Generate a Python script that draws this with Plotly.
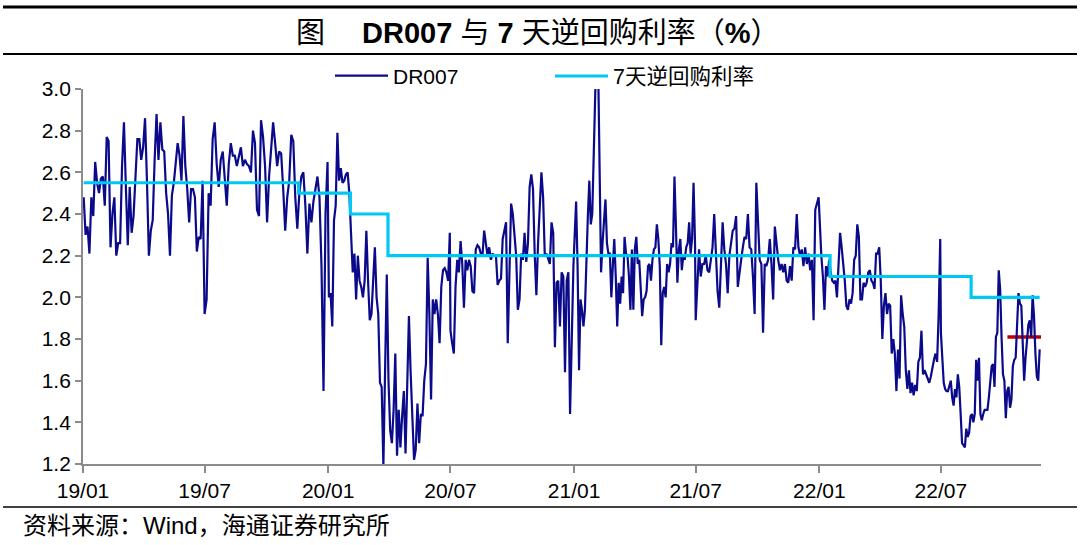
import pandas as pd
import plotly.graph_objects as go

# ---------------- data ----------------
dr007_2019h1 = [2.48, 2.30, 2.34, 2.21, 2.48, 2.39, 2.65, 2.55, 2.50, 2.57, 2.58, 2.44, 2.77, 2.75, 2.24, 2.40,
                2.48, 2.20, 2.26, 2.26, 2.63, 2.84, 2.53, 2.25, 2.53, 2.31, 2.39, 2.58, 2.76, 2.76, 2.66, 2.72,
                2.86, 2.56, 2.20, 2.32, 2.37, 2.66, 2.88, 2.66, 2.84, 2.71, 2.70, 2.50, 2.40, 2.20, 2.49, 2.55,
                2.63, 2.74, 2.68, 2.56, 2.87, 2.63, 2.52, 2.36, 2.52, 2.52, 2.48, 2.22, 2.29, 2.28, 2.56]
dr007_2019h2 = [1.92, 1.99, 2.50, 2.44, 2.76, 2.84, 2.64, 2.53, 2.66, 2.70, 2.56, 2.44, 2.64, 2.74, 2.68, 2.68,
                2.63, 2.68, 2.72, 2.63, 2.66, 2.64, 2.63, 2.60, 2.80, 2.74, 2.42, 2.39, 2.85, 2.77, 2.63, 2.36,
                2.58, 2.71, 2.84, 2.74, 2.63, 2.70, 2.69, 2.52, 2.32, 2.48, 2.56, 2.78, 2.75, 2.48, 2.33, 2.50,
                2.58, 2.60, 2.44, 2.21, 2.45, 2.36, 2.46, 2.52, 2.58, 2.48, 2.15, 1.55, 2.40, 2.65]
dr007_2020h1 = [2.00, 2.02, 1.86, 2.37, 2.44, 2.79, 2.56, 2.62, 2.55, 2.56, 2.59, 2.60, 2.50, 2.31, 2.12, 2.21,
                1.99, 2.20, 2.08, 2.05, 2.00, 2.08, 2.32, 2.08, 1.89, 1.92, 2.07, 2.24, 2.00, 1.92, 1.59, 1.57,
                1.19, 1.60, 2.11, 1.60, 1.36, 1.30, 1.46, 1.73, 1.24, 1.46, 1.28, 1.43, 1.55, 1.25, 1.54, 1.91,
                1.64, 1.44, 1.22, 1.27, 1.49, 1.30, 1.44, 1.43, 1.60, 1.68, 2.19, 1.92, 1.51, 1.99, 1.92, 1.99,
                1.92, 1.78, 2.05, 2.13, 2.14, 2.12, 2.08, 2.31]
dr007_2020h2 = [1.84, 1.78, 1.73, 2.05, 2.18, 2.12, 2.27, 2.16, 1.95, 2.18, 2.13, 2.18, 2.15, 2.03, 2.02, 2.23,
                2.25, 2.24, 2.21, 2.20, 2.32, 2.26, 2.20, 2.24, 2.18, 2.21, 2.20, 2.20, 2.06, 2.08, 2.09, 2.28,
                2.33, 2.36, 1.78, 2.12, 2.45, 2.40, 2.29, 2.20, 1.94, 1.99, 2.21, 2.18, 2.31, 2.17, 2.26, 2.53,
                2.59, 2.52, 2.21, 2.01, 2.26, 2.42, 2.60, 2.48, 2.20, 2.21, 2.18, 2.16, 2.36, 2.31, 1.76, 2.07,
                2.08, 1.86, 2.12, 2.10, 1.64, 2.08, 2.12, 1.44, 1.79, 2.15]
dr007_2021h1 = [2.46, 2.15, 1.65, 1.99, 1.94, 1.86, 1.94, 2.24, 2.39, 2.56, 2.35, 2.40, 2.66, 3.15, 3.25, 3.12,
                2.64, 2.12, 2.26, 2.35, 2.47, 2.26, 2.21, 2.21, 2.00, 2.15, 2.28, 2.10, 1.86, 2.07, 1.97, 2.10,
                2.02, 2.29, 2.21, 2.20, 2.10, 1.94, 2.23, 1.94, 2.23, 2.29, 2.16, 2.18, 2.03, 1.91, 1.99, 2.00,
                2.03, 2.15, 2.16, 2.08, 2.18, 2.23, 2.24, 2.35, 2.28, 2.15, 1.77, 2.02, 2.05, 2.00, 2.16, 2.12,
                2.16, 2.26, 2.24, 2.58, 2.34, 2.07, 2.23, 2.28, 2.13, 2.20, 2.18, 2.24, 2.26, 2.36, 2.21, 2.28,
                2.55, 2.26]
dr007_2021h2 = [1.89, 2.03, 2.23, 2.10, 2.16, 2.16, 2.20, 2.13, 2.12, 2.18, 2.24, 2.40, 2.23, 2.03, 1.95, 2.15,
                2.36, 2.23, 2.16, 2.02, 2.20, 2.26, 2.32, 2.33, 2.39, 2.05, 2.13, 2.18, 2.24, 2.29, 2.28, 2.40,
                2.24, 2.23, 2.10, 1.92, 2.55, 2.32, 2.18, 2.16, 1.83, 2.16, 2.15, 2.18, 2.28, 2.16, 1.99, 2.34,
                2.24, 2.18, 2.13, 2.16, 2.12, 2.16, 2.08, 2.07, 2.15, 2.08, 2.24, 2.23, 2.40, 2.24, 2.20, 2.23,
                2.15, 2.24, 2.16, 2.21, 2.13, 2.18, 1.89, 2.42, 2.45, 2.48]
dr007_2022h1 = [2.20, 2.10, 1.94, 2.15, 2.10, 2.18, 2.12, 2.08, 2.07, 2.08, 2.00, 2.16, 2.31, 2.24, 2.16, 2.08,
                1.96, 1.94, 1.99, 1.97, 2.02, 2.18, 2.20, 2.35, 2.29, 1.99, 1.99, 2.07, 2.05, 2.07, 2.12, 2.13,
                2.08, 2.07, 2.04, 2.21, 2.21, 2.24, 2.08, 1.80, 1.96, 2.02, 1.92, 1.97, 1.96, 1.73, 1.80, 1.73,
                1.55, 1.75, 1.61, 2.01, 1.92, 1.86, 1.65, 1.56, 1.65, 1.54, 1.59, 1.53, 1.58, 1.55, 1.69, 1.71,
                1.84, 1.63, 1.65, 1.63, 1.60, 1.59, 1.62, 1.67, 1.70, 1.73, 1.69, 1.92, 2.28]
dr007_2022h2 = [1.83, 1.67, 1.59, 1.56, 1.55, 1.55, 1.57, 1.60, 1.52, 1.48, 1.56, 1.52, 1.63, 1.57, 1.44, 1.30,
                1.29, 1.28, 1.37, 1.33, 1.35, 1.43, 1.44, 1.40, 1.44, 1.70, 1.60, 1.71, 1.44, 1.41, 1.44, 1.46,
                1.46, 1.46, 1.52, 1.62, 1.67, 1.68, 1.57, 1.81, 1.83, 2.13, 2.04, 1.81, 1.63, 1.60, 1.42, 1.55,
                1.57, 1.47, 1.51, 1.67, 1.70, 1.71, 1.89, 2.02, 1.97, 1.96, 1.78, 1.60, 1.71, 1.80, 1.87, 1.89,
                1.81, 2.01, 1.91, 1.73, 1.62, 1.60, 1.75]

# half-year periods that each DR007 list covers
period_starts = ["2019-01-02", "2019-07-01", "2020-01-02", "2020-07-01",
                 "2021-01-04", "2021-07-01", "2022-01-04", "2022-07-01"]
period_ends = ["2019-06-28", "2019-12-31", "2020-06-30", "2020-12-31",
               "2021-06-30", "2021-12-31", "2022-06-30", "2022-11-25"]

# 7-day reverse repo policy rate (step changes)
repo_dates = ["2019-01-02", "2019-11-18", "2020-02-03", "2020-03-30", "2022-01-17", "2022-08-15", "2022-11-25"]
repo_rates = [2.55, 2.50, 2.40, 2.20, 2.10, 2.00, 2.00]

# red reference segment
ref_dates = ["2022-10-08", "2022-11-27"]
ref_level = [1.81, 1.81]

tick_dates = ["2019-01-01", "2019-07-01", "2020-01-01", "2020-07-01",
              "2021-01-01", "2021-07-01", "2022-01-01", "2022-07-01"]
tick_labels = ["19/01", "19/07", "20/01", "20/07", "21/01", "21/07", "22/01", "22/07"]

# ---------------- build series ----------------
segments = [dr007_2019h1, dr007_2019h2, dr007_2020h1, dr007_2020h2,
            dr007_2021h1, dr007_2021h2, dr007_2022h1, dr007_2022h2]
dr_x, dr_y = [], []
for s, e, vals in zip(period_starts, period_ends, segments):
    dr_x.extend(pd.date_range(s, e, periods=len(vals)))
    dr_y.extend(vals)

FONT = "Liberation Sans, Arial, Noto Sans CJK SC, sans-serif"

fig = go.Figure()
fig.add_trace(go.Scatter(x=pd.to_datetime(ref_dates), y=ref_level, mode="lines",
                         line=dict(color="#C00000", width=3.5), showlegend=False, hoverinfo="skip"))
fig.add_trace(go.Scatter(x=dr_x, y=dr_y, mode="lines", name="DR007",
                         line=dict(color="#0A0A8A", width=2.2), legend="legend"))
fig.add_trace(go.Scatter(x=pd.to_datetime(repo_dates), y=repo_rates, mode="lines", name="7天逆回购利率",
                         line=dict(color="#00C8F5", width=3.2, shape="hv"), legend="legend2"))

# plot area: x 83..1041 px, y 89..464 px
W, H = 1080, 545
L, R, T, B = 83, 1041, 89, 464
def px(xp):
    return (xp - L) / (R - L)
def py(yp):
    return (B - yp) / (B - T)

fig.update_layout(
    width=W, height=H,
    margin=dict(l=L, r=W - R, t=T, b=H - B, autoexpand=False),
    paper_bgcolor="white", plot_bgcolor="white",
    font=dict(family=FONT, size=21, color="black"),
    showlegend=True,
    legend=dict(x=px(330), y=py(76), xanchor="left", yanchor="middle", orientation="h",
                itemwidth=53, bgcolor="rgba(0,0,0,0)", font=dict(family=FONT, size=21)),
    legend2=dict(x=px(550), y=py(76), xanchor="left", yanchor="middle", orientation="h",
                 itemwidth=53, bgcolor="rgba(0,0,0,0)", font=dict(family=FONT, size=21.5)),
    xaxis=dict(
        type="date",
        range=[pd.Timestamp("2019-01-01"), pd.Timestamp("2022-11-27")],
        tickvals=pd.to_datetime(tick_dates), ticktext=tick_labels,
        showgrid=False, zeroline=False,
        showline=True, linecolor="#8C8C8C", linewidth=1.8,
        ticks="outside", ticklen=7, tickwidth=1.8, tickcolor="#8C8C8C",
        tickfont=dict(family=FONT, size=21, color="black"),
    ),
    yaxis=dict(
        range=[1.2, 3.0], dtick=0.2, tick0=1.2, tickformat=".1f",
        showgrid=False, zeroline=False,
        showline=True, linecolor="#8C8C8C", linewidth=1.8,
        ticks="outside", ticklen=6, tickwidth=1.8, tickcolor="#8C8C8C",
        tickfont=dict(family=FONT, size=21, color="black"),
    ),
    shapes=[
        dict(type="line", xref="paper", yref="paper", x0=px(3), x1=px(1077), y0=py(7), y1=py(7),
             line=dict(color="black", width=3)),
        dict(type="line", xref="paper", yref="paper", x0=px(3), x1=px(1077), y0=py(54), y1=py(54),
             line=dict(color="black", width=2.2)),
        dict(type="line", xref="paper", yref="paper", x0=px(3), x1=px(1077), y0=py(507), y1=py(507),
             line=dict(color="black", width=1.6)),
    ],
    annotations=[
        dict(text="图　 <b>DR007</b> 与 <b>7</b> 天逆回购利率（<b>%</b>）", xref="paper", yref="paper",
             x=px(537), y=py(33), xanchor="center", yanchor="middle", showarrow=False,
             font=dict(family=FONT, size=29, color="black")),
        dict(text="资料来源：Wind，海通证券研究所", xref="paper", yref="paper",
             x=px(21), y=py(525), xanchor="left", yanchor="middle", showarrow=False,
             font=dict(family=FONT, size=24, color="black")),
    ],
)

fig.write_html("out.html", config={"displayModeBar": False},
               post_script="document.body.style.margin='0';document.body.style.overflow='hidden';")
